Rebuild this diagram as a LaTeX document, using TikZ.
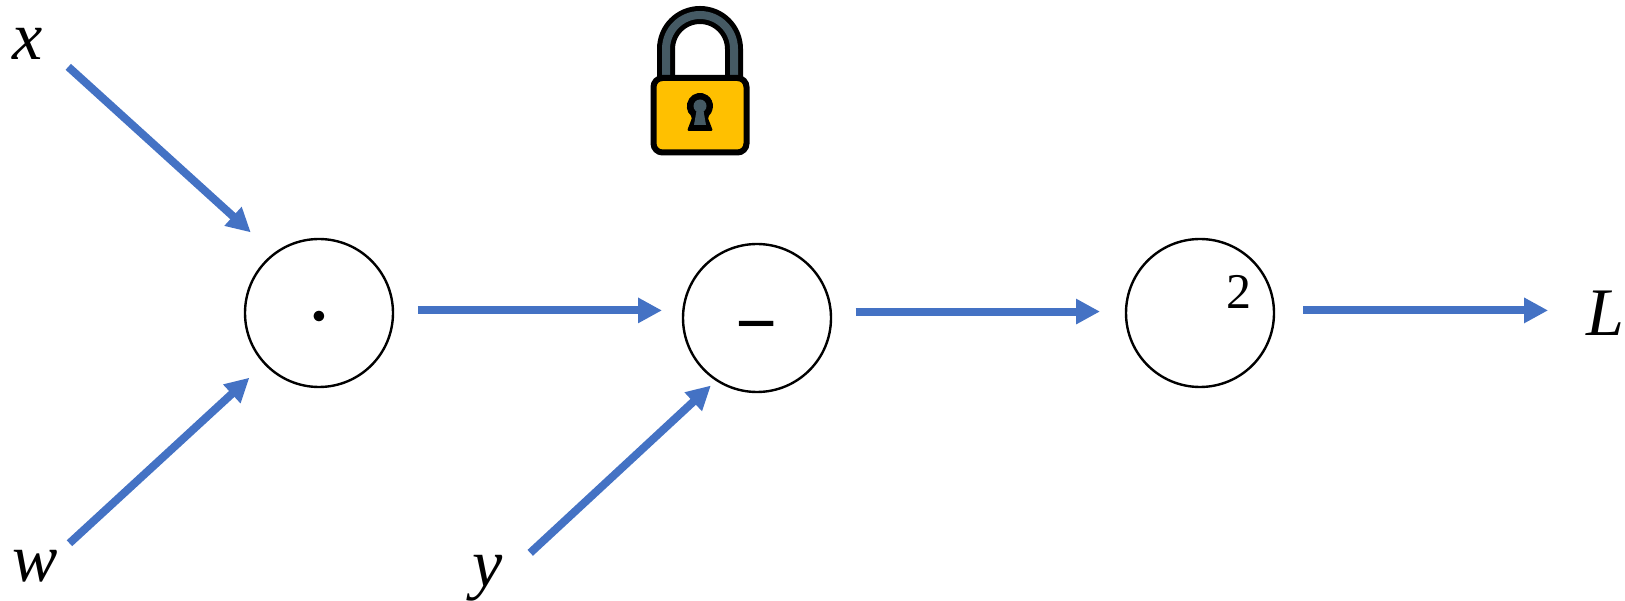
\documentclass[tikz,border=0pt]{standalone}
\usepackage{amsmath}
\usepackage{fontspec}
\setmainfont{Liberation Serif}
\usepackage{tikz}
\usetikzlibrary{arrows.meta}
\definecolor{flowblue}{HTML}{4472C4}
\definecolor{lockslate}{HTML}{455A64}
\definecolor{lockgold}{HTML}{FFC000}

\begin{document}
\begin{tikzpicture} [x=1pt, y=-1pt, every node/.style={inner sep=0pt, outer sep=0pt}]
\tikzstyle{op}=[circle, draw, line width=2.4pt, minimum size=148pt]
\tikzstyle{flow}=[draw=flowblue, line width=8pt, -{Triangle[length=24pt, width=24pt]}]
\tikzstyle{var}=[font=\fontsize{68}{68}\selectfont\itshape]
\useasboundingbox (0,0) rectangle (1625,601);

\node [var] (x) at (28,44) {x};
\node [var] (w) at (35,566) {w};
\node [var] (y) at (488,578) {y};
\node [var] (L) at (1605,313) {L};

\node [op] (times) at (319,313) {};
\node [op] (minus) at (757,318) {};
\node [op] (square) at (1200,313) {};

\node [scale=10] (timessign) at (319,319) {$\cdot$};
\node [font=\fontsize{74}{74}\selectfont\bfseries] (minussign) at (757,334.5) {−};
\node [font=\fontsize{50}{50}\selectfont] (squaresign) at (1239,292) {2};

\draw [flow, shorten <=34pt, shorten >=32pt] (x.east) -- (times.127);
\draw [flow, shorten <=16pt, shorten >=21pt] ([shift={(0,4)}]w.north east) -- (times.223);
\draw [flow, shorten <=37pt, shorten >=8pt] (y.east) -- (minus.237);
\draw [flow, shorten <=25pt, shorten >=21pt] (times.2) -- (times.2 -| minus.west);
\draw [flow, shorten <=25pt, shorten >=26pt] (minus.5) -- (minus.5 -| square.west);
\draw [flow, shorten <=29.5pt, shorten >=38pt] (square.2) -- (square.2 -| L.west);

\draw [line width=18pt] (666,78) -- (666,49) arc (180:360:34) -- (734,78);
\draw [lockslate, line width=8pt] (666,76) -- (666,49) arc (180:360:34) -- (734,76);
\draw [fill=lockgold, line width=6pt, rounded corners=9pt] (653.5,78) rectangle (746.5,152.5);
\fill [rounded corners=2pt] (687,131) -- (692.5,116.6) arc (125:415:13) -- (713,131) -- cycle;
\fill [lockslate] (700,106) circle (6.5);
\fill [lockslate] (697,108) -- (703,108) -- (706,125) -- (694,125) -- cycle;
\end{tikzpicture}
\end{document}
